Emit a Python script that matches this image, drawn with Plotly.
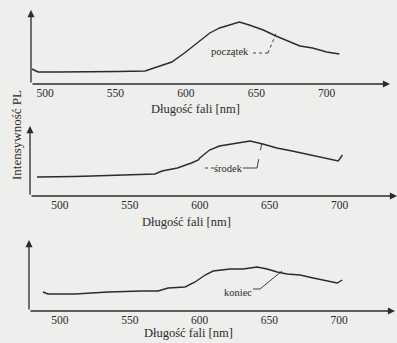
import plotly.graph_objects as go

# ---- data (wavelength nm, PL intensity arb. units) ----
wl_poczatek = [490.7, 495, 509, 533, 552, 571, 580, 590, 599, 608, 617, 624, 631, 638, 645, 655, 664, 674, 681, 690, 700, 709]
pl_poczatek = [15, 12, 12, 12, 12.5, 13, 17, 22, 31, 41, 51, 56, 59, 62, 59, 54, 48, 42, 38, 36, 32, 30]

wl_srodek = [483.6, 498.6, 510, 523, 535, 546, 568, 573, 584, 594, 599, 600, 607, 614, 624, 636, 645, 655, 666, 679, 691, 699, 702]
pl_srodek = [19, 19, 19.5, 20, 20.5, 21, 22, 25, 28, 33, 36, 38, 46, 50, 52, 55, 52, 48, 45, 41, 37, 35, 41]

wl_koniec = [487.8, 491.4, 510.8, 534.4, 558.8, 570.3, 577.4, 589.6, 596.8, 604, 609.7, 614.7, 621.9, 631.2, 641.2, 648.4, 655.6, 662.7, 672, 681.4, 691.4, 698.6, 702.2]
pl_koniec = [19, 17, 17, 19, 20, 20, 23, 24, 29, 36, 40, 41, 42, 42, 44, 42, 39, 37, 36, 33, 30, 28, 31]

tick_vals = [500, 550, 600, 650, 700]
tick_text = ["500", "550", "600", "650", "700"]
x_title = "Długość fali [nm]"
y_title = "Intensywność PL"
labels = ["początek", "środek", "koniec"]

W, H = 397, 343
INK = "#2b2b2b"
SERIF = "Liberation Serif, Times New Roman, serif"

# panel geometry: (x0px, x1px, ybottom px, ytop px, xrange, yrange)
panels = [
    (31, 390, 84, 10, [490, 745], [0, 74]),
    (30, 397, 196, 126, [478.6, 741], [0, 70]),
    (29, 395, 311, 240, [477.8, 740], [0, 71]),
]
series = [(wl_poczatek, pl_poczatek), (wl_srodek, pl_srodek), (wl_koniec, pl_koniec)]

fig = go.Figure()
layout = dict(
    width=W, height=H, margin=dict(l=0, r=0, t=0, b=0),
    paper_bgcolor="#eeeeec", plot_bgcolor="rgba(0,0,0,0)",
    showlegend=False, annotations=[], shapes=[],
)

for i, ((x0, x1, yb, yt, xr, yr), (xs, ys)) in enumerate(zip(panels, series)):
    n = "" if i == 0 else str(i + 1)
    xa, ya = "x" + n, "y" + n
    fig.add_trace(go.Scatter(x=xs, y=ys, mode="lines", xaxis=xa, yaxis=ya,
                             line=dict(color=INK, width=1.4), hoverinfo="skip"))
    layout["xaxis" + n] = dict(
        domain=[x0 / W, x1 / W], range=xr, anchor=ya, showgrid=False, zeroline=False,
        showline=False, ticks="", tickvals=tick_vals, ticktext=tick_text,
        tickfont=dict(family=SERIF, size=11.5, color=INK), fixedrange=True,
    )
    layout["yaxis" + n] = dict(
        domain=[1 - yb / H, 1 - yt / H], range=yr, anchor=xa, showgrid=False,
        zeroline=False, showline=False, showticklabels=False, ticks="", fixedrange=True,
    )
    # axes with arrowheads
    layout["annotations"].append(dict(
        x=xr[1], y=yr[0], ax=xr[0], ay=yr[0], xref=xa, yref=ya, axref=xa, ayref=ya,
        text="", showarrow=True, arrowhead=2, arrowsize=1.1, arrowwidth=1.3, arrowcolor=INK))
    layout["annotations"].append(dict(
        x=xr[0], y=yr[1], ax=xr[0], ay=yr[0], xref=xa, yref=ya, axref=xa, ayref=ya,
        text="", showarrow=True, arrowhead=2, arrowsize=1.1, arrowwidth=1.3, arrowcolor=INK))

# axis titles
for (px, py) in [(195, 109), (186, 222), (188, 333)]:
    layout["annotations"].append(dict(
        x=px / W, y=1 - py / H, xref="paper", yref="paper", text=x_title, showarrow=False,
        font=dict(family=SERIF, size=12.5, color=INK), xanchor="center", yanchor="middle"))
layout["annotations"].append(dict(
    x=16 / W, y=1 - 135 / H, xref="paper", yref="paper", text=y_title, showarrow=False,
    textangle=-90, font=dict(family=SERIF, size=13, color=INK), xanchor="center", yanchor="middle"))

# curve labels
label_pos = [("x", "y", 631.3, 32), ("x2", "y2", 620.8, 28), ("x3", "y3", 627.5, 19)]
for (xa, ya, lx, ly), t in zip(label_pos, labels):
    layout["annotations"].append(dict(
        x=lx, y=ly, xref=xa, yref=ya, text=t, showarrow=False,
        font=dict(family=SERIF, size=10.5, color=INK), xanchor="center", yanchor="middle"))

# leader lines
leaders = [
    ("x", "y", [(647.7, 31), (658.3, 31)], "dot"),
    ("x", "y", [(658.3, 31), (664, 50)], "dot"),
    ("x2", "y2", [(603.7, 28), (610.8, 28)], "dot"),
    ("x2", "y2", [(630.9, 28), (640.9, 28)], "solid"),
    ("x2", "y2", [(640.9, 28), (644.4, 53)], "dash"),
    ("x3", "y3", [(638.3, 22), (643.3, 22)], "solid"),
    ("x3", "y3", [(643.3, 22), (659.0, 40)], "solid"),
]
for xa, ya, pts, dash in leaders:
    (ax0, ay0), (ax1, ay1) = pts
    layout["shapes"].append(dict(type="line", xref=xa, yref=ya, x0=ax0, y0=ay0, x1=ax1, y1=ay1,
                                 line=dict(color=INK, width=0.9, dash=dash)))

fig.update_layout(**layout)
fig.write_html("out.html")
